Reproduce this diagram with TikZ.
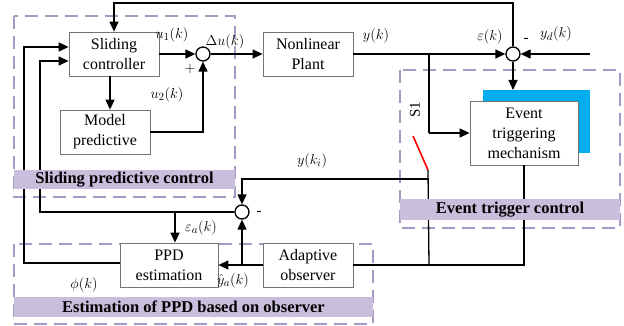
\documentclass[tikz,border=0pt]{standalone}
\usepackage{amsmath}
\usepackage{fontspec}
\setmainfont{Liberation Serif}
\usetikzlibrary{arrows.meta, positioning, backgrounds}
\definecolor{grpline}{HTML}{A898C4}
\definecolor{grpband}{HTML}{C9BEDC}
\definecolor{trigblue}{HTML}{00AEEF}
\tikzset{
  blk/.style={draw=black!55, line width=0.8pt, fill=white, align=center, inner sep=0pt,
              minimum width=90pt, minimum height=44pt, font=\fontsize{16}{20}\selectfont},
  sumnode/.style={circle, draw, line width=1.3pt, fill=white, minimum size=14pt, inner sep=0pt},
  arr/.style={-{Triangle[length=10pt,width=9pt]}, line width=1.3pt},
  ln/.style={line width=1.3pt},
  grp/.style={draw=grpline, line width=2pt, dash pattern=on 13pt off 7pt},
  band/.style={fill=grpband, inner sep=0pt, font=\fontsize{16.5}{20}\selectfont\bfseries},
  lbl/.style={font=\fontsize{15}{17}\selectfont, inner sep=0pt},
}

\begin{document}
\begin{tikzpicture}[x=1pt, y=-1pt]
    \useasboundingbox (0,0) rectangle (624,326);

    % groups
    \draw[grp] (14,16) rectangle (235,197);
    \draw[grp] (400,70) rectangle (620,228);
    \draw[grp] (14,244) rectangle (373,324);
    \fill[trigblue] (483,90) rectangle (590,153);

    \node[blk] (ctrl) at (114,54) {Sliding\\controller};
    \node[blk] (mpc) at (105,132) {Model\\predictive};
    \node[sumnode] (s1) at (203,54) {};
    \node[blk] (plant) at (308,54) {Nonlinear\\Plant};
    \node[sumnode] (s2) at (513,54) {};
    \node[blk, minimum width=108pt, minimum height=64pt] (etm) at (524,133) {Event\\triggering\\mechanism};
    \node[sumnode] (s3) at (242,212) {};
    \node[blk, minimum width=98pt] (ppd) at (169,265) {PPD\\estimation};
    \node[blk] (obs) at (308,265) {Adaptive\\observer};

    \coordinate (yd) at (590,54);
    \coordinate (br) at (429,54);
    \coordinate (swtop) at (429,133);
    \coordinate (swa) at (413,136);
    \coordinate (swb) at (428,170);
    \coordinate (yki) at (429,179);
    \coordinate (bot) at (429,265);

    \draw[arr] (ctrl.east) -- (s1.west);
    \draw[arr] ([xshift=5pt]mpc.north |- ctrl.south) -- ([xshift=5pt]mpc.north);
    \draw[arr] (mpc.east) -| (s1.south);
    \draw[arr] (s1.east) -- (plant.west);
    \draw[arr] (plant.east) -- (s2.west);
    \draw[arr] (yd) -- (s2.east);
    \draw[arr] (s2.north) -- (513,3) -| (ctrl.north);
    \draw[arr] (s2.south) -- (513,90);
    \draw[ln] (br) -- (swtop);
    \draw[arr] (swtop) -- (swtop -| etm.west);
    \draw[red, line width=1.6pt] (swa) -- (swb);
    \draw[ln] (swb) -- (bot);
    \draw[arr] (yki) -| (s3.north);
    \draw[ln] (etm.south) |- (obs.east);
    \draw[arr] (obs.west) -- (ppd.east);
    \draw[arr] (242,265) -- (s3.south);
    \draw[arr] (s3.west) -- (40,212) |- (40,61) -- (40,61 -| ctrl.west);
    \draw[arr] (175,212) -- (175,212 |- ppd.north);
    \draw[arr] (ppd.west |- 0,263) -- (24,263) |- (24,47) -- (24,47 -| ctrl.west);

    % labels
    \node[lbl] (lu1) at (172,35) {$u_1(k)$};
    \node[lbl] (lplus) at (190,69) {$+$};
    \node[lbl] (lu2) at (167,95) {$u_2(k)$};
    \node[lbl] (ldu) at (225,42) {$\Delta u(k)$};
    \node[lbl] (ly) at (376,36) {$y(k)$};
    \node[lbl] (leps) at (490,37) {$\varepsilon(k)$};
    \node[lbl] (lm1) at (526,40) {-};
    \node[lbl] (lyd) at (556,34) {$y_d(k)$};
    \node[lbl, rotate=90] (ls1) at (415,110) {S1};
    \node[lbl] (lyki) at (312,161) {$y(k_i)$};
    \node[lbl] (lm2) at (259,213) {-};
    \node[lbl] (lepa) at (201,228) {$\varepsilon_a(k)$};
    \node[lbl] (lya) at (233,281) {$\hat{y}_a(k)$};
    \node[lbl] (lphi) at (84,285) {$\phi(k)$};

    % group titles
    \node[band, minimum width=221pt, minimum height=18pt] (b1) at (124.5,179.5) {Sliding predictive control};
    \node[band, minimum width=220pt, minimum height=21pt] (b2) at (510,209.5) {Event trigger control};
    \node[band, minimum width=359pt, minimum height=20pt] (b3) at (193.5,307) {Estimation of PPD based on observer};
  \end{tikzpicture}
\end{document}
